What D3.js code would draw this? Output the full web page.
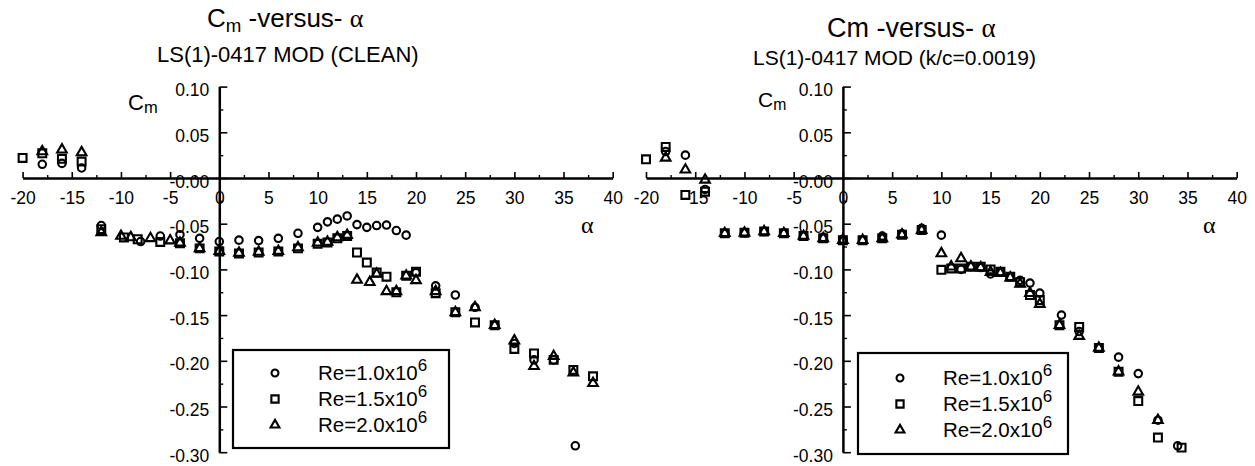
<!DOCTYPE html>
<html>
<head>
<meta charset="utf-8">
<script src="https://cdn.jsdelivr.net/npm/d3@7"></script>
<style>
  body { margin: 0; background: #fff; }
  svg  { display: block; font-family: Arial, "Liberation Sans", sans-serif; }
</style>
</head>
<body>
<svg id="chart" width="1255" height="466"></svg>
<script>

/* ── axis ticks ── */
const xTicks = [-20, -15, -10, -5, 0, 5, 10, 15, 20, 25, 30, 35, 40];
const xMinor = [-17.5, -12.5, -7.5, -2.5, 2.5, 7.5, 12.5, 17.5, 22.5, 27.5, 32.5, 37.5];
const yTicks = [0.10, 0.05, 0, -0.05, -0.10, -0.15, -0.20, -0.25, -0.30];
const yMinor = [0.075, 0.025, -0.025, -0.075, -0.125, -0.175, -0.225, -0.275];

/* ── legend ── */
const reLabels = ['Re=1.0x10', 'Re=1.5x10', 'Re=2.0x10'];
const reExp = '6';

/* ── LS(1)-0417 MOD clean : [alpha, Cm] ── */
const cleanRe10 = [
  [-18, 0.015], [-16, 0.016], [-14, 0.011], [-12, -0.052], [-8, -0.0695], [-6, -0.0635],
  [-4, -0.062], [-2, -0.066], [0, -0.0695], [2, -0.068], [4, -0.0685], [6, -0.066],
  [8, -0.0605], [10, -0.054], [11, -0.048], [12, -0.045], [13, -0.0415], [14, -0.051],
  [15, -0.054], [16, -0.052], [17, -0.0515], [18, -0.0575], [19, -0.0625], [20, -0.1035],
  [22, -0.118], [24, -0.128], [26, -0.1415], [28, -0.161], [30, -0.181], [32, -0.199],
  [34, -0.199], [36.2, -0.293]
];
const cleanRe15 = [
  [-20, 0.022], [-18, 0.027], [-16, 0.021], [-14, 0.018], [-12, -0.056], [-9.7, -0.065],
  [-8.3, -0.067], [-6, -0.070], [-4, -0.0715], [-2, -0.077], [0, -0.0805], [2, -0.0825],
  [4, -0.0815], [6, -0.0805], [8, -0.077], [10, -0.072], [11, -0.0705], [12, -0.066],
  [13, -0.0635], [14, -0.0815], [15, -0.0925], [16, -0.1035], [17, -0.108], [18, -0.125],
  [19, -0.107], [20, -0.1025], [22, -0.126], [24, -0.147], [26, -0.158], [28, -0.161],
  [30, -0.187], [32, -0.192], [34, -0.199], [36, -0.210], [38, -0.217]
];
const cleanRe20 = [
  [-18, 0.029], [-16, 0.031], [-14, 0.028], [-12, -0.0595], [-10, -0.0635], [-9, -0.065],
  [-7, -0.066], [-5, -0.0685], [-4, -0.071], [-2, -0.077], [0, -0.080], [2, -0.082],
  [4, -0.081], [6, -0.080], [8, -0.076], [10, -0.071], [11, -0.070], [12, -0.065],
  [13, -0.0625], [14, -0.1115], [15.3, -0.114], [16, -0.105], [17, -0.124], [18, -0.124],
  [19, -0.107], [20, -0.112], [22, -0.124], [24, -0.147], [26, -0.1415], [28, -0.161],
  [30, -0.178], [32, -0.206], [34, -0.195], [36, -0.213], [38, -0.2245]
];

/* ── LS(1)-0417 MOD k/c=0.0019 : [alpha, Cm] ── */
const roughRe10 = [
  [-18, 0.029], [-16, 0.025], [-14, -0.0125], [-12, -0.0605], [-10, -0.060], [-8, -0.0585],
  [-6, -0.0605], [-4, -0.0635], [-2, -0.065], [0, -0.067], [2, -0.068], [4, -0.0635],
  [6, -0.061], [8, -0.055], [10, -0.0625], [12, -0.100], [13, -0.097], [14, -0.098],
  [15, -0.105], [16, -0.1025], [17, -0.108], [18, -0.112], [19, -0.115], [20, -0.126],
  [22.2, -0.150], [24, -0.168], [26, -0.186], [28, -0.196], [30, -0.214], [32, -0.265],
  [34, -0.293]
];
const roughRe15 = [
  [-20, 0.0205], [-18, 0.034], [-16, -0.0185], [-14, -0.015], [-12, -0.0605], [-10, -0.060],
  [-8, -0.0585], [-6, -0.0605], [-4, -0.0635], [-2, -0.066], [0, -0.068], [2, -0.068],
  [4, -0.066], [6, -0.062], [8, -0.057], [10, -0.1005], [11, -0.099], [12, -0.099],
  [13, -0.097], [14, -0.097], [15, -0.100], [16, -0.1025], [17, -0.108], [18, -0.114],
  [19, -0.128], [20, -0.1335], [22, -0.161], [24, -0.163], [26, -0.186], [28, -0.212],
  [30, -0.244], [32, -0.284], [34.4, -0.295]
];
const roughRe20 = [
  [-18, 0.022], [-16, 0.009], [-14, -0.002], [-12, -0.0605], [-10, -0.060], [-8, -0.0585],
  [-6, -0.0605], [-4, -0.0635], [-2, -0.066], [0, -0.068], [2, -0.068], [4, -0.066],
  [6, -0.062], [8, -0.057], [10, -0.0825], [11, -0.097], [12, -0.088], [13, -0.097],
  [14, -0.098], [15, -0.103], [16, -0.104], [17, -0.109], [18, -0.116], [19, -0.126],
  [20, -0.138], [22, -0.161], [24, -0.173], [26, -0.186], [28, -0.212], [30, -0.234],
  [32, -0.265]
];


const svg = d3.select('#chart');
const symTypes = [d3.symbolCircle, d3.symbolSquare, d3.symbolTriangle];
const symSizes = [44, 62, 40];
const serif = '"Liberation Serif", "Times New Roman", serif';

const fmtCm = d => d === 0 ? '-0.00' : d.toFixed(2);


function drawPanel(p) {
  const g = svg.append('g');

  const x = d3.scaleLinear().domain([-20, 40]).range(p.xRange);
  const y = d3.scaleLinear().domain([0.10, -0.30]).range([86.6, 452.2]);

  /* ── y axis (sits at alpha = 0, ticks point right) ── */
  const yAxis = g.append('g')
    .attr('transform', `translate(${x(0)},0)`)
    .call(d3.axisLeft(y).tickValues(yTicks).tickSize(-8).tickSizeOuter(0)
      .tickPadding(10).tickFormat(fmtCm));
  yAxis.attr('font-size', 17.5).attr('font-family', null);
  yAxis.select('.domain').attr('stroke-width', 2.5);
  yAxis.selectAll('.tick line').attr('stroke-width', 1.6);
  yAxis.selectAll('.tick text').attr('dy', '0.52em').attr('fill', '#000');

  g.append('g')
    .attr('transform', `translate(${x(0)},0)`)
    .call(d3.axisLeft(y).tickValues(yMinor).tickSize(-4).tickFormat(''))
    .call(a => a.select('.domain').remove())
    .selectAll('line').attr('stroke-width', 1.4);

  /* ── x axis (sits at Cm = 0, ticks point up) ── */
  const xAxis = g.append('g')
    .attr('transform', `translate(0,${y(0)})`)
    .call(d3.axisBottom(x).tickValues(xTicks).tickSize(-6).tickSizeOuter(0)
      .tickPadding(14).tickFormat(d => String(d)));
  xAxis.attr('font-size', 17.5).attr('font-family', null);
  xAxis.select('.domain').attr('stroke-width', 2.5);
  xAxis.selectAll('.tick line').attr('stroke-width', 1.6);
  xAxis.selectAll('.tick text').attr('fill', '#000');

  g.append('g')
    .attr('transform', `translate(0,${y(0)})`)
    .call(d3.axisBottom(x).tickValues(xMinor).tickSize(-3).tickFormat(''))
    .call(a => a.select('.domain').remove())
    .selectAll('line').attr('stroke-width', 1.4);

  /* ── markers ── */
  p.series.forEach((s, i) => {
    g.append('g').selectAll('path')
      .data(s)
      .join('path')
      .attr('transform', d => `translate(${x(d[0])},${y(d[1])})`)
      .attr('d', d3.symbol().type(symTypes[i]).size(symSizes[i])())
      .attr('fill', 'none')
      .attr('stroke', '#000')
      .attr('stroke-width', 2.1);
  });

  /* ── titles ── */
  const t = g.append('text')
    .attr('x', p.title.x).attr('y', p.title.y)
    .attr('font-size', p.title.size);
  t.append('tspan').text('C');
  if (p.title.sub) {
    t.append('tspan').attr('font-size', p.title.size * 0.72).attr('dy', 5).text('m');
    t.append('tspan').attr('dy', -5).text(' -versus- ');
  } else {
    t.append('tspan').text('m -versus- ');
  }
  t.append('tspan').attr('font-family', serif).text('α');

  g.append('text')
    .attr('x', p.subtitle.x).attr('y', p.subtitle.y)
    .attr('font-size', p.subtitle.size)
    .text(p.subtitle.text);

  /* ── axis names ── */
  const cm = g.append('text')
    .attr('x', p.cmLabel.x).attr('y', p.cmLabel.y)
    .attr('font-size', p.cmLabel.size);
  cm.append('tspan').text('C');
  cm.append('tspan').attr('font-size', p.cmLabel.size * 0.75).attr('dy', 3).text('m');

  g.append('text')
    .attr('x', p.alphaLabel.x).attr('y', p.alphaLabel.y)
    .attr('font-family', serif).attr('font-size', 24)
    .text('α');

  /* ── legend ── */
  const L = p.legend;
  g.append('rect')
    .attr('x', L.x).attr('y', L.y).attr('width', L.w).attr('height', L.h)
    .attr('fill', '#fff').attr('stroke', '#000').attr('stroke-width', 2.2);

  reLabels.forEach((lab, i) => {
    const ry = L.rowY[i];
    g.append('path')
      .attr('transform', `translate(${L.symX},${ry - 7})`)
      .attr('d', d3.symbol().type(symTypes[i]).size(symSizes[i] * 0.85)())
      .attr('fill', 'none').attr('stroke', '#000').attr('stroke-width', 2.1);
    const lt = g.append('text')
      .attr('x', L.textX).attr('y', ry)
      .attr('font-size', 20.5);
    lt.append('tspan').text(lab);
    lt.append('tspan').attr('font-size', 17).attr('dy', -9).text(reExp);
  });
}


drawPanel({
  xRange: [22.6, 612.7],
  series: [cleanRe10, cleanRe15, cleanRe20],
  title:    { x: 207, y: 27, size: 26, sub: true },
  subtitle: { x: 157, y: 62, size: 22, text: 'LS(1)-0417 MOD (CLEAN)' },
  cmLabel:  { x: 128, y: 110, size: 22 },
  alphaLabel: { x: 581, y: 233 },
  legend: { x: 233, y: 350, w: 216, h: 98, symX: 275, textX: 318, rowY: [380, 406, 432] }
});

drawPanel({
  xRange: [646, 1236.7],
  series: [roughRe10, roughRe15, roughRe20],
  title:    { x: 827, y: 37, size: 27, sub: false },
  subtitle: { x: 753, y: 65, size: 21, text: 'LS(1)-0417 MOD (k/c=0.0019)' },
  cmLabel:  { x: 758, y: 107, size: 21 },
  alphaLabel: { x: 1203, y: 233 },
  legend: { x: 858, y: 353, w: 210, h: 101, symX: 900, textX: 943, rowY: [385, 411, 437] }
});

</script>
</body>
</html>
